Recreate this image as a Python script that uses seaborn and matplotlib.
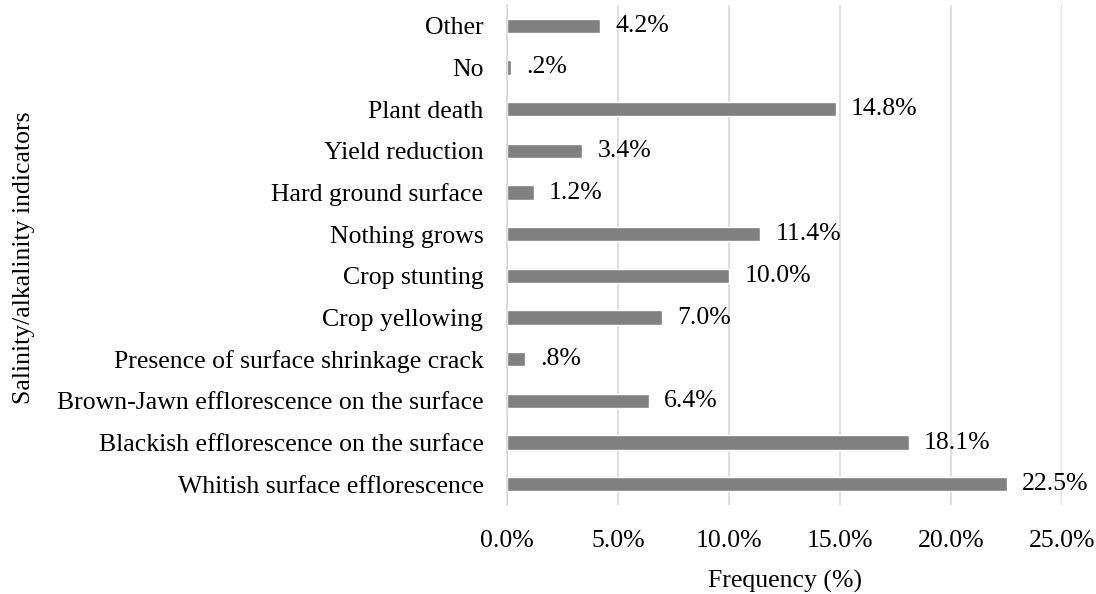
import matplotlib
matplotlib.use("Agg")
import matplotlib.pyplot as plt
import seaborn as sns
import pandas as pd

categories = [
    "Other",
    "No",
    "Plant death",
    "Yield reduction",
    "Hard ground surface",
    "Nothing grows",
    "Crop stunting",
    "Crop yellowing",
    "Presence of surface shrinkage crack",
    "Brown-Jawn efflorescence on the surface",
    "Blackish efflorescence on the surface",
    "Whitish surface efflorescence",
]
values = [4.2, 0.2, 14.8, 3.4, 1.2, 11.4, 10.0, 7.0, 0.8, 6.4, 18.1, 22.5]
xticks = [0, 5, 10, 15, 20, 25]

df = pd.DataFrame({"cat": categories, "val": values})

sns.set_theme(style="white")
plt.rcParams["font.family"] = ["Liberation Serif", "DejaVu Serif"]

FS = 18.5

fig = plt.figure(figsize=(10.96, 5.94), dpi=100)
ax = fig.add_axes([0.4626, 0.1498, 0.5064, 0.8418])

sns.barplot(data=df, x="val", y="cat", color="#808080", saturation=1,
            width=0.35, ax=ax, orient="h")

for i, v in enumerate(values):
    s = f"{v:.1f}%"
    if s.startswith("0"):
        s = s[1:]
    ax.annotate(s, (v, i), xytext=(11, 0), textcoords="offset points",
                va="center", ha="left", fontsize=FS, color="black")

ax.set_xlim(0, 25)
ax.set_ylim(len(categories) - 0.5, -0.5)
ax.set_xticks(xticks)
ax.set_xticklabels([f"{t:.1f}%" for t in xticks], fontsize=FS, color="black")
ax.tick_params(axis="y", labelsize=FS, labelcolor="black", length=0, pad=17)
ax.tick_params(axis="x", length=0, pad=18)
ax.grid(axis="x", color="#d9d9d9", linewidth=1.2)
ax.set_axisbelow(True)
for sp in ["top", "right", "bottom"]:
    ax.spines[sp].set_visible(False)
ax.spines["left"].set_color("#d9d9d9")
ax.spines["left"].set_linewidth(1.2)
ax.set_xlabel("Frequency (%)", fontsize=FS, color="black", labelpad=13)
ax.set_ylabel("")
fig.text(24 / 1096, 1 - 258 / 594,
         "Salinity/alkalinity indicators", rotation=90, fontsize=FS,
         va="center", ha="center", color="black")

fig.savefig("out.png", dpi=100)
